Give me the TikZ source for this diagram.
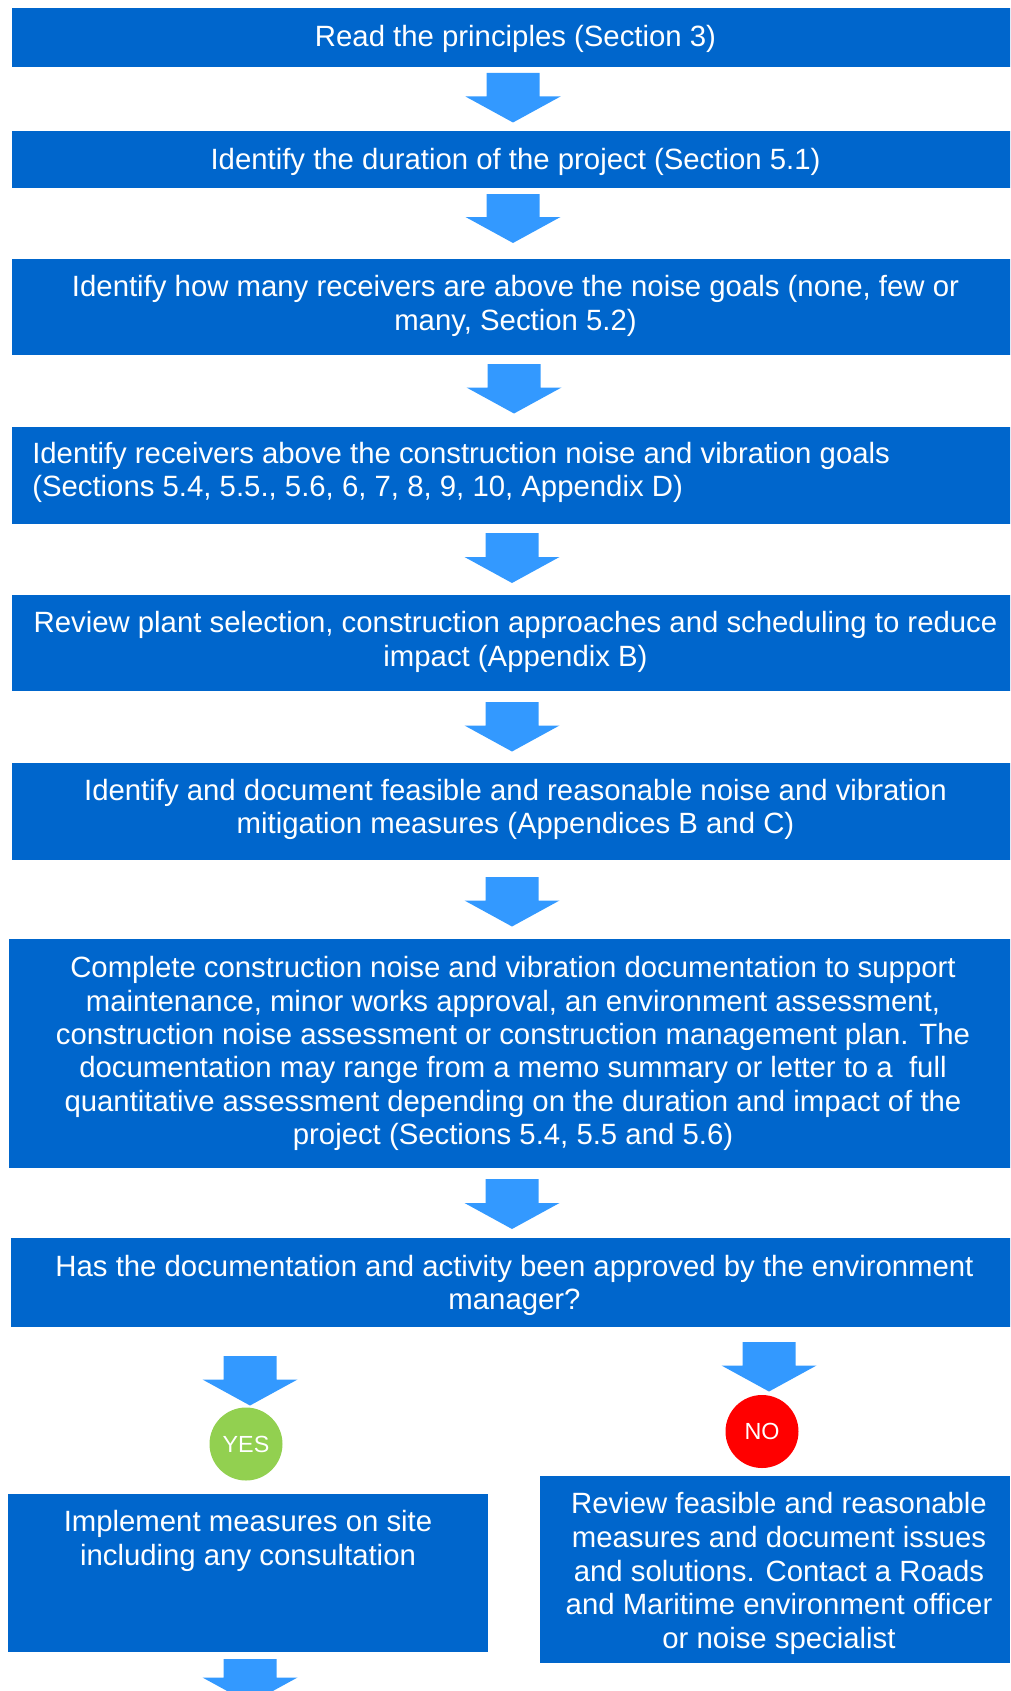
\documentclass[tikz,border=0pt]{standalone}
\usepackage{fontspec}
\setmainfont{Liberation Sans}
\definecolor{boxblue}{HTML}{0066CC}
\definecolor{arrowblue}{HTML}{3399FF}
\definecolor{yesgreen}{HTML}{92D050}
\definecolor{nored}{HTML}{FF0000}
\newcommand\barrow[3]{\fill[arrowblue] (#1-26.5,#2) -- (#1+26.5,#2) -- (#1+26.5,#2+#3) -- (#1+47.5,#2+#3) -- (#1,#2+#3+26) -- (#1-47.5,#2+#3) -- (#1-26.5,#2+#3) -- cycle;}
\begin{document}
\begin{tikzpicture}[x=0.75pt,y=-0.75pt,
  box/.style={rectangle, fill=boxblue, inner sep=0pt},
  txt/.style={text=white, inner sep=0pt, align=center, font=\fontsize{22}{25.3}\selectfont},
  badge/.style={circle, inner sep=0pt, minimum size=73*0.75pt, text=white,
    font=\fontsize{17.5}{20}\selectfont}]
\useasboundingbox (0,0) rectangle (1010,1691);
\clip (0,0) rectangle (1010,1691);

% boxes (extend past the right edge, clipped)
\node[box, minimum width=1007*0.75pt, minimum height=59*0.75pt] (b1) at (515.5,37.5) {};
\node[box, minimum width=1007*0.75pt, minimum height=57*0.75pt] (b2) at (515.5,159.5) {};
\node[box, minimum width=1007*0.75pt, minimum height=96*0.75pt] (b3) at (515.5,307) {};
\node[box, minimum width=1007*0.75pt, minimum height=97*0.75pt] (b4) at (515.5,475.5) {};
\node[box, minimum width=1007*0.75pt, minimum height=96*0.75pt] (b5) at (515.5,643) {};
\node[box, minimum width=1007*0.75pt, minimum height=97*0.75pt] (b6) at (515.5,811.5) {};
\node[box, minimum width=1008*0.75pt, minimum height=229*0.75pt] (b7) at (513,1053.5) {};
\node[box, minimum width=1007*0.75pt, minimum height=89*0.75pt] (b8) at (514.5,1282.5) {};
\node[box, minimum width=480*0.75pt, minimum height=158*0.75pt] (lbox) at (248,1573) {};
\node[box, minimum width=470*0.75pt, minimum height=187*0.75pt] (rbox) at (775,1569.5) {};

% texts
\node[txt] (t1) at (515.5,38.5) {Read the principles (Section 3)};
\node[txt] (t2) at (515.5,161.5) {Identify the duration of the project (Section 5.1)};
\node[txt] (t3) at (515.5,306)
  {Identify how many receivers are above the noise goals (none, few or\\many, Section 5.2)};
\node[txt, anchor=west, align=left] (t4) at (32,472.5)
  {Identify receivers above the construction noise and vibration goals\\(Sections 5.4, 5.5., 5.6, 6, 7, 8, 9, 10, Appendix D)};
\node[txt] (t5) at (515.5,642)
  {Review plant selection, construction approaches and scheduling to reduce\\impact (Appendix B)};
\node[txt] (t6) at (515.5,809.5)
  {Identify and document feasible and reasonable noise and vibration\\mitigation measures (Appendices B and C)};
\node[txt, font=\fontsize{22}{25.0}\selectfont] (t7) at (513,1053.5)
  {Complete construction noise and vibration documentation to support\\
   maintenance, minor works approval, an environment assessment,\\
   construction noise assessment or construction management plan. The\\
   documentation may range from a memo summary or letter to a \ full\\
   quantitative assessment depending on the duration and impact of the\\
   project (Sections 5.4, 5.5 and 5.6)};
\node[txt] (t8) at (514.5,1285.5)
  {Has the documentation and activity been approved by the environment\\manager?};
\node[txt] (ltext) at (248,1541) {Implement measures on site\\including any consultation};
\node[txt, font=\fontsize{22}{25.4}\selectfont] (rtext) at (779,1573.5)
  {Review feasible and reasonable\\
   measures and document issues\\
   and solutions. Contact a Roads\\
   and Maritime environment officer\\
   or noise specialist};

\node[badge, fill=yesgreen] (yes) at (246,1444) {YES};
\node[badge, fill=nored] (no) at (762,1431.5) {NO};

% block arrows
\barrow{513}{73}{23.5}
\barrow{513}{194}{23}
\barrow{514}{364}{23.5}
\barrow{512}{533}{24}
\barrow{512}{702}{23.5}
\barrow{512}{877}{23.5}
\barrow{512}{1179}{24}
\barrow{250}{1356}{23.5}
\barrow{769}{1342}{23.5}
\barrow{250}{1659}{18.5}
\end{tikzpicture}
\end{document}
